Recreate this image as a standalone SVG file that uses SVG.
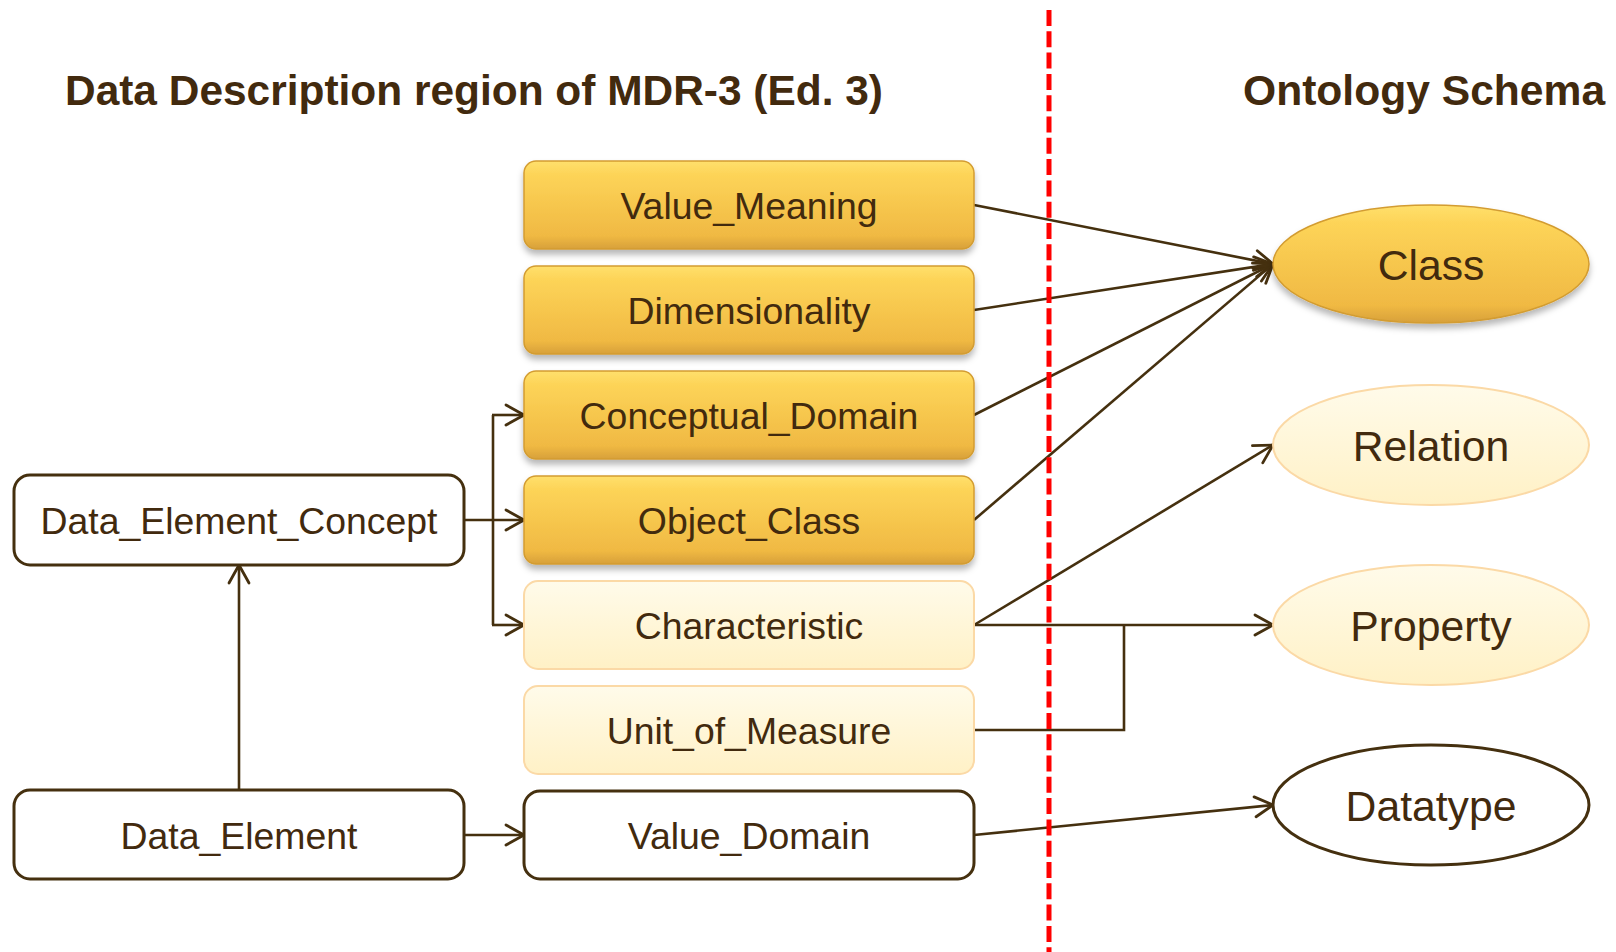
<svg xmlns="http://www.w3.org/2000/svg" width="1616" height="952" viewBox="0 0 1616 952">
<style>
  text { font-family: "Liberation Sans", Arial, sans-serif; fill: #422a0e; text-anchor: middle; }
  .title { font-size: 42.6px; font-weight: bold; text-anchor: start; }
  .lbl { font-size: 37.4px; }
  .elbl { font-size: 42.7px; }
  .gold { fill: url(#goldGrad); stroke: #d39c30; stroke-width: 1.5; filter: url(#shadow); }
  .pale { fill: url(#paleGrad); stroke: #fbd9a6; stroke-width: 2; }
  .plain { fill: #ffffff; stroke: #45300f; stroke-width: 3; }
  .conn { fill: none; stroke: #45300f; stroke-width: 2.6; }
  .arr { marker-end: url(#open); }
</style>
<defs>
  <linearGradient id="goldGrad" x1="0" y1="0" x2="0" y2="1">
    <stop offset="0" stop-color="#ffe06c"/>
    <stop offset="0.15" stop-color="#fdd458"/>
    <stop offset="0.85" stop-color="#f0b943"/>
    <stop offset="1" stop-color="#d7a03a"/>
  </linearGradient>
  <linearGradient id="paleGrad" x1="0" y1="0" x2="0" y2="1">
    <stop offset="0" stop-color="#fffbea"/>
    <stop offset="1" stop-color="#fff1c6"/>
  </linearGradient>
  <filter id="shadow" x="-10%" y="-20%" width="120%" height="150%">
    <feDropShadow dx="0" dy="5" stdDeviation="3" flood-color="#000000" flood-opacity="0.28"/>
  </filter>
  <marker id="open" markerUnits="userSpaceOnUse" markerWidth="24" markerHeight="26" refX="20" refY="12" orient="auto" viewBox="0 0 24 26">
    <path d="M2,2 L20,12 L2,22" fill="none" stroke="#45300f" stroke-width="2.8" stroke-linecap="round" stroke-linejoin="round"/>
  </marker>
</defs>

<g id="titles">
  <text class="title" x="65" y="105" textLength="818" lengthAdjust="spacingAndGlyphs">Data Description region of MDR-3 (Ed. 3)</text>
  <text class="title" x="1243" y="105">Ontology Schema</text>
</g>

<g id="connectors">
  <path class="conn arr" d="M974,205 L1273,264"/>
  <path class="conn arr" d="M974,310 L1273,264"/>
  <path class="conn arr" d="M974,415 L1273,264"/>
  <path class="conn arr" d="M974,520 L1273,264"/>
  <path class="conn arr" d="M974,625 L1273,445"/>
  <path class="conn arr" d="M974,625 L1273,625"/>
  <path class="conn" d="M974,730 L1124,730 L1124,625"/>
  <path class="conn arr" d="M974,835 L1273,805"/>
  <path class="conn arr" d="M464,520 L524,520"/>
  <path class="conn" d="M493,415 L493,625"/>
  <path class="conn arr" d="M492,415 L524,415"/>
  <path class="conn arr" d="M492,625 L524,625"/>
  <path class="conn arr" d="M239,790 L239,565"/>
  <path class="conn arr" d="M464,835 L524,835"/>
</g>

<g id="node-value-meaning">
  <rect class="gold" x="524" y="161" width="450" height="88" rx="12"/>
  <text class="lbl" x="749" y="219">Value_Meaning</text>
</g>
<g id="node-dimensionality">
  <rect class="gold" x="524" y="266" width="450" height="88" rx="12"/>
  <text class="lbl" x="749" y="324">Dimensionality</text>
</g>
<g id="node-conceptual-domain">
  <rect class="gold" x="524" y="371" width="450" height="88" rx="12"/>
  <text class="lbl" x="749" y="429">Conceptual_Domain</text>
</g>
<g id="node-object-class">
  <rect class="gold" x="524" y="476" width="450" height="88" rx="12"/>
  <text class="lbl" x="749" y="534">Object_Class</text>
</g>
<g id="node-characteristic">
  <rect class="pale" x="524" y="581" width="450" height="88" rx="14"/>
  <text class="lbl" x="749" y="639">Characteristic</text>
</g>
<g id="node-unit-of-measure">
  <rect class="pale" x="524" y="686" width="450" height="88" rx="14"/>
  <text class="lbl" x="749" y="744">Unit_of_Measure</text>
</g>
<g id="node-value-domain">
  <rect class="plain" x="524" y="791" width="450" height="88" rx="16"/>
  <text class="lbl" x="749" y="849">Value_Domain</text>
</g>
<g id="node-data-element-concept">
  <rect class="plain" x="14" y="475" width="450" height="90" rx="16"/>
  <text class="lbl" x="239" y="534">Data_Element_Concept</text>
</g>
<g id="node-data-element">
  <rect class="plain" x="14" y="790" width="450" height="89" rx="16"/>
  <text class="lbl" x="239" y="849">Data_Element</text>
</g>

<g id="node-class">
  <ellipse class="gold" cx="1431" cy="264" rx="158" ry="59"/>
  <text class="elbl" x="1431" y="280">Class</text>
</g>
<g id="node-relation">
  <ellipse class="pale" cx="1431" cy="445" rx="158" ry="60"/>
  <text class="elbl" x="1431" y="461">Relation</text>
</g>
<g id="node-property">
  <ellipse class="pale" cx="1431" cy="625" rx="158" ry="60"/>
  <text class="elbl" x="1431" y="641">Property</text>
</g>
<g id="node-datatype">
  <ellipse class="plain" cx="1431" cy="805" rx="158" ry="60"/>
  <text class="elbl" x="1431" y="821">Datatype</text>
</g>

<g id="divider">
  <line x1="1049" y1="10" x2="1049" y2="952" stroke="#ff0000" stroke-width="5" stroke-dasharray="16 5.3"/>
</g>
</svg>
